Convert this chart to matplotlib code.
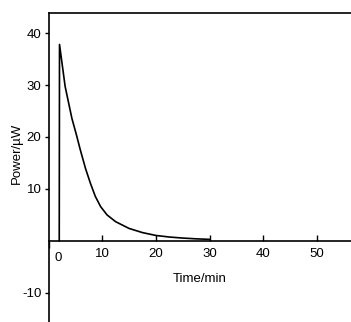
import matplotlib
matplotlib.use("Agg")
import matplotlib.pyplot as plt
import matplotlib.transforms as mtransforms

plt.rcParams['font.family'] = ['Liberation Sans', 'DejaVu Sans']
plt.rcParams['axes.unicode_minus'] = False

# heat-flow curve
time_min = [2.0, 2.05, 3.1, 4.35, 5.2, 5.9, 6.9, 7.8, 8.7, 9.7, 10.9, 12.5,
            15.0, 17.5, 20.0, 22.5, 25.0, 27.5, 30.0]
power_uw = [0, 37.8, 29.7, 23.6, 20.4, 17.6, 13.9, 11.1, 8.6, 6.6, 5.0, 3.7,
            2.4, 1.6, 1.05, 0.75, 0.55, 0.4, 0.3]

x_ticks = [10, 20, 30, 40, 50]
y_ticks = [-10, 10, 20, 30, 40]

fig = plt.figure(figsize=(3.51, 3.22), dpi=100)
ax = fig.add_axes([48.5 / 351, 0, 1 - 48.5 / 351, 1 - 13.3 / 322])

ax.plot(time_min, power_uw, color='black', lw=1.2)

ax.set_xlim(0, 56.3)
ax.set_ylim(-15.6, 43.8)

ax.spines['right'].set_visible(False)
ax.spines['bottom'].set_position(('data', 0))
for s in ['left', 'top', 'bottom']:
    ax.spines[s].set_linewidth(1.2)

ax.set_xticks(x_ticks)
ax.set_xticks([0], minor=True)
ax.set_xticklabels(['0'], minor=True)
ax.tick_params(axis='x', which='major', direction='in', length=4, width=1,
               pad=5, labelsize=9.5)
ax.tick_params(axis='x', which='minor', direction='out', length=5, width=1,
               pad=3, labelsize=9.5)
for lab in ax.get_xticklabels(minor=True):
    lab.set_transform(lab.get_transform() +
                      mtransforms.ScaledTranslation(0.1, 0, fig.dpi_scale_trans))

ax.set_yticks(y_ticks)
ax.tick_params(axis='y', direction='out', length=3, width=1, pad=2,
               labelsize=9.5)

fig.text(17 / 351, 1 - 153 / 322, 'Power/µW', rotation=90, ha='center',
         va='center', fontsize=9.5)
fig.text(200 / 351, 1 - 279 / 322, 'Time/min', ha='center', va='center',
         fontsize=9.5)

fig.savefig('out.png', dpi=100)
